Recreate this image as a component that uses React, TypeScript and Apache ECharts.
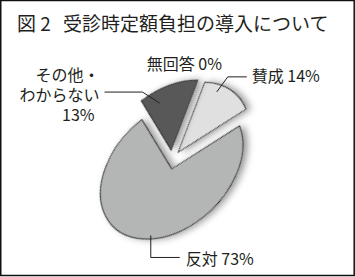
import React, { useEffect, useRef } from 'react';
import * as echarts from 'echarts';

// ---- data ----
const categories = ['賛成', '反対', 'その他・わからない', '無回答'];
const labelNames = ['賛成', '反対', 'その他・\nわからない', '無回答'];
const values = [14, 73, 13, 0];
const titleNumber = '図 2';
const titleText = '受診時定額負担の導入について';

// ---- style ----
const FONT = "'Noto Sans CJK JP', 'Noto Sans', sans-serif";
const INK = '#231f20';
const COLORS = ['#e0e0e0', '#b4b5b5', '#585858', '#ffffff'];
const PIE = { cx: 171.7, cy: 169, a: 82, b: 57, tilt: 43.6, startAngle: -34.5 };
const EXPLODE = [
  { dist: 0.24, at: 0 },
  { dist: 0, at: 0.5 },
  { dist: 0.29, at: 0.5 },
  { dist: 0, at: 0.5 },
];
const LABELS: any[] = [
  { at: 0.3, r: 0.9, bend: [11, -15], end: [30, -15], align: 'left', dx: 5, dy: -2 },
  { at: 0.478, r: 0.95, bend: [0, 22], end: [29, 22], align: 'left', dx: 6, dy: 1 },
  { at: 0.276, r: 0.795, bend: [-17, -11], end: [-55, -11], align: 'right', dx: -5, dy: 2 },
  { at: 0, r: 1, bend: null, end: [-14, -36.5], align: 'center', dx: 0, dy: 0 },
];

export default function App() {
  const ref = useRef<HTMLDivElement>(null);
  useEffect(() => {
    const chart = echarts.init(ref.current!, null, { renderer: 'svg' });
    const total = values.reduce((s, v) => s + v, 0);
    const t = (PIE.tilt * Math.PI) / 180;
    const cosT = Math.cos(t);
    const sinT = Math.sin(t);
    const toScreen = (lu: number, lv: number) => [
      PIE.cx + lu * PIE.a * cosT + lv * PIE.b * sinT,
      PIE.cy - lu * PIE.a * sinT + lv * PIE.b * cosT,
    ];
    const startOf = (i: number) =>
      PIE.startAngle + (360 * values.slice(0, i).reduce((s, v) => s + v, 0)) / total;
    const rad = (d: number) => (d * Math.PI) / 180;

    const renderItem = (params: any, api: any) => {
      const i = params.dataIndex;
      const v = api.value(0);
      const s = startOf(i);
      const span = (360 * v) / total;
      const ex = EXPLODE[i];
      const ed = rad(s + ex.at * span);
      const eu = ex.dist * Math.cos(ed);
      const ev = ex.dist * Math.sin(ed);
      const children: any[] = [];
      if (span > 0) {
        children.push({
          type: 'group',
          x: PIE.cx,
          y: PIE.cy,
          rotation: t,
          scaleX: 1,
          scaleY: PIE.b / PIE.a,
          children: [
            {
              type: 'sector',
              z2: i === 1 ? 1 : 2,
              shape: {
                cx: eu * PIE.a,
                cy: ev * PIE.a,
                r: PIE.a,
                r0: 0,
                startAngle: rad(s),
                endAngle: rad(s + span),
                clockwise: true,
              },
              style: {
                fill: COLORS[i],
                stroke: '#2b2b2b',
                lineWidth: 0.9,
                strokeNoScale: true,
                shadowBlur: 7,
                shadowColor: 'rgba(0,0,0,0.4)',
                shadowOffsetX: 3,
                shadowOffsetY: 3,
              },
            },
          ],
        });
      }
      const L = LABELS[i];
      const la = rad(s + L.at * span);
      const [ax, ay] = toScreen(eu + L.r * Math.cos(la), ev + L.r * Math.sin(la));
      if (L.bend) {
        children.push({
          type: 'polyline',
          z2: 10,
          shape: {
            points: [
              [ax, ay],
              [ax + L.bend[0], ay + L.bend[1]],
              [ax + L.end[0], ay + L.end[1]],
            ],
          },
          style: { stroke: INK, lineWidth: 1, fill: null },
        });
      }
      const name = labelNames[i];
      const pct = `${v}%`;
      const multi = name.indexOf('\n') >= 0;
      const text = multi
        ? name.split('\n').map((p) => `{n|${p}}`).join('\n') + `\n{p|${pct}}`
        : `${name} ${pct}`;
      children.push({
        type: 'text',
        z2: 10,
        x: ax + L.end[0] + L.dx,
        y: ay + L.end[1] + L.dy,
        style: {
          text,
          fill: INK,
          fontSize: 16,
          fontFamily: FONT,
          lineHeight: 20,
          align: L.align,
          verticalAlign: 'middle',
          rich: {
            n: { fontSize: 16, fontFamily: FONT, fill: INK, lineHeight: 20 },
            p: { fontSize: 16, fontFamily: FONT, fill: INK, lineHeight: 20, align: 'right', padding: [0, 5, 0, 0] },
          },
        },
      });
      return { type: 'group', children };
    };

    chart.setOption({
      animation: false,
      backgroundColor: '#ffffff',
      title: {
        text: `{a|${titleNumber}}{b|${titleText}}`,
        left: 17,
        top: 11,
        padding: 0,
        textStyle: {
          fontWeight: 'normal',
          rich: {
            a: { fontSize: 19, fontFamily: FONT, fontWeight: 'normal', color: INK, width: 46, lineHeight: 22 },
            b: { fontSize: 19, fontFamily: FONT, fontWeight: 'normal', color: INK, lineHeight: 22 },
          },
        },
      },
      graphic: [
        {
          type: 'rect',
          shape: { x: 0.75, y: 0.5, width: 353.45, height: 275 },
          style: { fill: 'none', stroke: '#111111', lineWidth: 1.5 },
          z: 100,
        },
      ],
      series: [
        {
          type: 'custom',
          coordinateSystem: 'none',
          renderItem,
          data: values.map((v, i) => ({ name: categories[i], value: [v] })),
        },
      ],
    });
    return () => chart.dispose();
  }, []);
  return (
    <div
      ref={ref}
      style={{ position: 'absolute', left: 0, top: 0, width: 355, height: 277 }}
    />
  );
}
